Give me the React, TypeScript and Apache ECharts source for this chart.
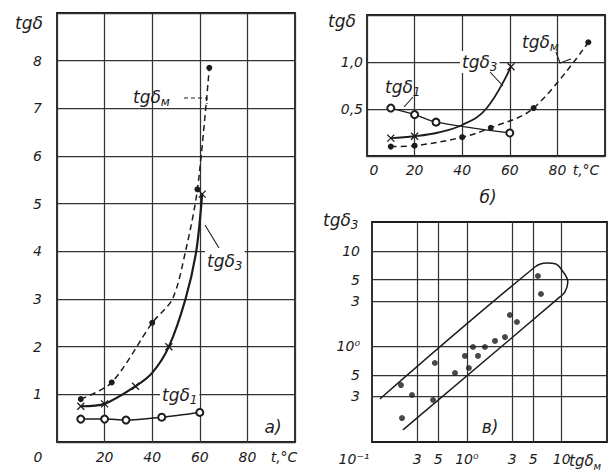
import React, { useEffect, useRef } from "react";
import * as echarts from "echarts";

// ---------- Panel а): tgδ vs t, °C ----------
const aOil: number[][] = [[10, 0.9], [23, 1.25], [40, 2.5], [48.5, 3.0], [54, 4.0], [59, 5.3], [64, 7.85]];
const aOilMarked: boolean[] = [true, true, true, false, false, true, true];
const aTg3: number[][] = [[10, 0.75], [20, 0.8], [33, 1.17], [40, 1.45], [47, 2.0], [54, 3.0], [58.5, 4.0], [61, 5.2]];
const aTg3Marked: boolean[] = [true, true, true, false, true, false, false, true];
const aTg1: number[][] = [[10, 0.48], [20, 0.48], [29, 0.46], [44, 0.52], [60, 0.62]];

// ---------- Panel б) ----------
const bOil: number[][] = [[10, 0.1], [20, 0.11], [40, 0.2], [52, 0.3], [70, 0.51], [93, 1.21]];
const bTg3: number[][] = [[10, 0.19], [20, 0.21], [30, 0.25], [40, 0.33], [50, 0.5], [60.5, 0.95]];
const bTg3Marked: boolean[] = [true, true, false, false, false, true];
const bTg1: number[][] = [[10, 0.51], [20, 0.44], [29, 0.36], [60, 0.245]];

// ---------- Panel в): tgδ3 vs tgδм (log–log) ----------
const vPoints: number[][] = [
  [0.202, 0.394], [0.207, 0.178], [0.264, 0.31], [0.44, 0.275], [0.46, 0.67],
  [0.75, 0.527], [0.955, 0.795], [1.05, 0.594], [1.16, 0.986], [1.31, 0.795],
  [1.55, 0.986], [1.98, 1.14], [2.52, 1.25], [2.84, 2.13], [3.37, 1.8],
  [5.61, 5.45], [6.04, 3.53],
];
const vEnvelope: number[][] = [
  [0.121, 0.282], [5.22, 6.77], [6.98, 7.45], [8.7, 7.28], [10.0, 6.3],
  [11.6, 4.72], [10.8, 3.71], [9.57, 3.29], [0.212, 0.134],
];
const vGridValues: number[] = [0.3, 0.5, 1, 3, 5, 10];
const vXLabelValues: number[] = [0.1, 0.3, 0.5, 1, 3, 5, 10];

const FONT = "'DejaVu Sans', sans-serif";
const INK = "#1c1c1c";
const GRID = "#333333";
const CROSS = "path://M0,0L10,10M10,0L0,10";

const near = (a: number, b: number) => Math.abs(a - b) < 1e-6 * Math.max(1, Math.abs(b));

const logLabel = (v: number) => {
  if (near(v, 0.1)) return "{z|10⁻¹}";
  if (near(v, 1)) return "10⁰";
  if (near(v, 10)) return "10";
  if (near(v, 0.3) || near(v, 3)) return "3";
  if (near(v, 0.5) || near(v, 5)) return "5";
  return "";
};

const labelFont = { fontFamily: FONT, fontStyle: "italic" as const, fontSize: 14, color: INK };
const splitStyle = () => ({ show: true, lineStyle: { color: GRID, width: 1.25 } });
const hiddenTicks = (values: number[]) => ({ show: false, customValues: values });

const RICH = {
  m: { fontFamily: FONT, fontStyle: "italic", fontSize: 17, fill: INK },
  s: { fontFamily: FONT, fontStyle: "italic", fontSize: 12, fill: INK, padding: [10, 0, 0, 0] },
};
const sub = (main: string, s: string) => `{m|${main}}{s|${s}}`;

const textEl = (x: number, y: number, text: string, align = "left", bg = false, size = 17) => ({
  type: "text",
  x,
  y,
  z: 100,
  style: {
    text,
    rich: size === 17 ? RICH : { m: { ...RICH.m, fontSize: size }, s: { ...RICH.s, fontSize: size - 5 } },
    align,
    verticalAlign: "middle",
    fontFamily: FONT,
    fontStyle: "italic",
    fontSize: size,
    fill: INK,
    backgroundColor: bg ? "#fff" : undefined,
    padding: bg ? [0, 2] : undefined,
  },
});

const leader = (points: number[][], dashed = false) => ({
  type: "polyline",
  z: 100,
  shape: { points },
  style: { stroke: INK, lineWidth: 1.1, fill: "none", lineDash: dashed ? [4, 3] : null },
});

const marked = (data: number[][], flags: boolean[], symbol: string) =>
  data.map((p, i) => ({ value: p, symbol: flags[i] ? symbol : "none" }));

export default function App() {
  const ref = useRef<HTMLDivElement>(null);

  useEffect(() => {
    if (!ref.current) return;
    const chart = echarts.init(ref.current, null, { renderer: "svg" });

    const gridBase = { show: true, borderColor: INK, borderWidth: 1.8, backgroundColor: "transparent", containLabel: false };

    const option: any = {
      animation: false,
      backgroundColor: "#fff",
      grid: [
        { ...gridBase, left: 57, top: 13, width: 238, height: 429 },
        { ...gridBase, left: 367, top: 15, width: 238, height: 141 },
        { ...gridBase, left: 372, top: 222, width: 235, height: 220 },
      ],
      xAxis: [
        {
          gridIndex: 0, type: "value", min: 0, max: 100, interval: 20,
          axisLine: { show: false }, axisTick: { show: false }, splitLine: splitStyle(),
          axisLabel: {
            ...labelFont, margin: 8,
            formatter: (v: number) => (v === 0 ? "{z|0}" : v === 100 ? "{u|t,°C}" : String(v)),
            rich: { z: { ...labelFont, padding: [0, 38, 0, 0] }, u: { ...labelFont, padding: [0, 22, 0, 0] } },
          },
        },
        {
          gridIndex: 1, type: "value", min: 0, max: 100, interval: 20,
          axisLine: { show: false }, axisTick: { show: false }, splitLine: splitStyle(),
          axisLabel: {
            ...labelFont, margin: 7,
            formatter: (v: number) => (v === 0 ? "{z|0}" : v === 100 ? "{u|t,°C}" : String(v)),
            rich: { z: { ...labelFont, padding: [0, 0, 0, 14] }, u: { ...labelFont, padding: [0, 38, 0, 0] } },
          },
        },
        {
          gridIndex: 2, type: "log", logBase: 10, min: 0.1, max: 30,
          axisLine: { show: false }, axisTick: hiddenTicks(vGridValues), splitLine: splitStyle(),
          axisLabel: {
            ...labelFont, margin: 10, customValues: vXLabelValues,
            formatter: logLabel,
            rich: { z: { ...labelFont, padding: [0, 36, 0, 0] } },
          },
        },
      ],
      yAxis: [
        {
          gridIndex: 0, type: "value", min: 0, max: 9, interval: 1,
          axisLine: { show: false }, axisTick: { show: false }, splitLine: splitStyle(),
          axisLabel: {
            ...labelFont, margin: 15,
            formatter: (v: number) => (v === 0 || v === 9 ? "" : String(v)),
          },
        },
        {
          gridIndex: 1, type: "value", min: 0, max: 1.5, interval: 0.5,
          axisLine: { show: false }, axisTick: { show: false }, splitLine: splitStyle(),
          axisLabel: {
            ...labelFont, margin: 4,
            formatter: (v: number) => (v === 0 || v === 1.5 ? "" : v.toFixed(1).replace(".", ",")),
          },
        },
        {
          gridIndex: 2, type: "log", logBase: 10, min: 0.1, max: 20,
          axisLine: { show: false }, axisTick: hiddenTicks(vGridValues), splitLine: splitStyle(),
          axisLabel: { ...labelFont, margin: 12, customValues: vGridValues, formatter: logLabel },
        },
      ],
      series: [
        {
          name: "tgδм а", type: "line", xAxisIndex: 0, yAxisIndex: 0,
          data: marked(aOil, aOilMarked, "circle"),
          smooth: 0.3, z: 3,
          lineStyle: { color: INK, width: 1.5, type: [6, 4] },
          symbolSize: 6, itemStyle: { color: INK },
        },
        {
          name: "tgδ3 а", type: "line", xAxisIndex: 0, yAxisIndex: 0,
          data: marked(aTg3, aTg3Marked, CROSS),
          smooth: 0.3, z: 3,
          lineStyle: { color: INK, width: 2.2 },
          symbolSize: 7, itemStyle: { color: INK, borderColor: INK, borderWidth: 1.3 },
        },
        {
          name: "tgδ1 а", type: "line", xAxisIndex: 0, yAxisIndex: 0, data: aTg1,
          smooth: 0.3, z: 3,
          lineStyle: { color: INK, width: 1.5 },
          symbol: "emptyCircle", symbolSize: 7, itemStyle: { color: INK, borderWidth: 1.2 },
        },
        {
          name: "tgδм б", type: "line", xAxisIndex: 1, yAxisIndex: 1, data: bOil,
          smooth: 0.35, z: 3,
          lineStyle: { color: INK, width: 1.5, type: [6, 4] },
          symbol: "circle", symbolSize: 6, itemStyle: { color: INK },
        },
        {
          name: "tgδ3 б", type: "line", xAxisIndex: 1, yAxisIndex: 1,
          data: marked(bTg3, bTg3Marked, CROSS),
          smooth: 0.4, z: 3,
          lineStyle: { color: INK, width: 1.8 },
          symbolSize: 7, itemStyle: { color: INK, borderColor: INK, borderWidth: 1.3 },
        },
        {
          name: "tgδ1 б", type: "line", xAxisIndex: 1, yAxisIndex: 1, data: bTg1,
          smooth: 0.3, z: 3,
          lineStyle: { color: INK, width: 1.3 },
          symbol: "emptyCircle", symbolSize: 7, itemStyle: { color: INK, borderWidth: 1.2 },
        },
        {
          name: "envelope", type: "line", xAxisIndex: 2, yAxisIndex: 2, data: vEnvelope,
          smooth: 0.4, symbol: "none", z: 3,
          lineStyle: { color: INK, width: 1.5 },
        },
        {
          name: "points", type: "scatter", xAxisIndex: 2, yAxisIndex: 2, data: vPoints,
          symbol: "circle", symbolSize: 6, itemStyle: { color: INK }, z: 3,
        },
      ],
      graphic: [
        textEl(29, 23, "tgδ", "center"),
        textEl(133, 97, sub("tgδ", "м")),
        textEl(205, 261, sub("tgδ", "3"), "left", true),
        textEl(160, 395, sub("tgδ", "1"), "left", true),
        textEl(273, 427, "а)", "center"),
        leader([[184, 98], [207, 98], [207, 104]], true),
        leader([[205, 225], [219, 248]]),
        textEl(342, 21, "tgδ", "center"),
        textEl(385, 87, sub("tgδ", "1")),
        textEl(460, 62, sub("tgδ", "3"), "left", true),
        textEl(522, 42, sub("tgδ", "м")),
        textEl(488, 197, "б)", "center"),
        leader([[404, 107], [413, 97]]),
        leader([[490, 72], [503, 86]]),
        leader([[556, 52], [560, 63], [571, 59]]),
        textEl(323, 220, sub("tgδ", "3")),
        textEl(569, 461, sub("tgδ", "м"), "left", false, 15),
        textEl(490, 427, "в)", "center"),
      ],
    };

    chart.setOption(option);
    return () => chart.dispose();
  }, []);

  return (
    <div
      ref={ref}
      style={{ position: "absolute", left: 0, top: 0, width: 615, height: 470 }}
    />
  );
}
